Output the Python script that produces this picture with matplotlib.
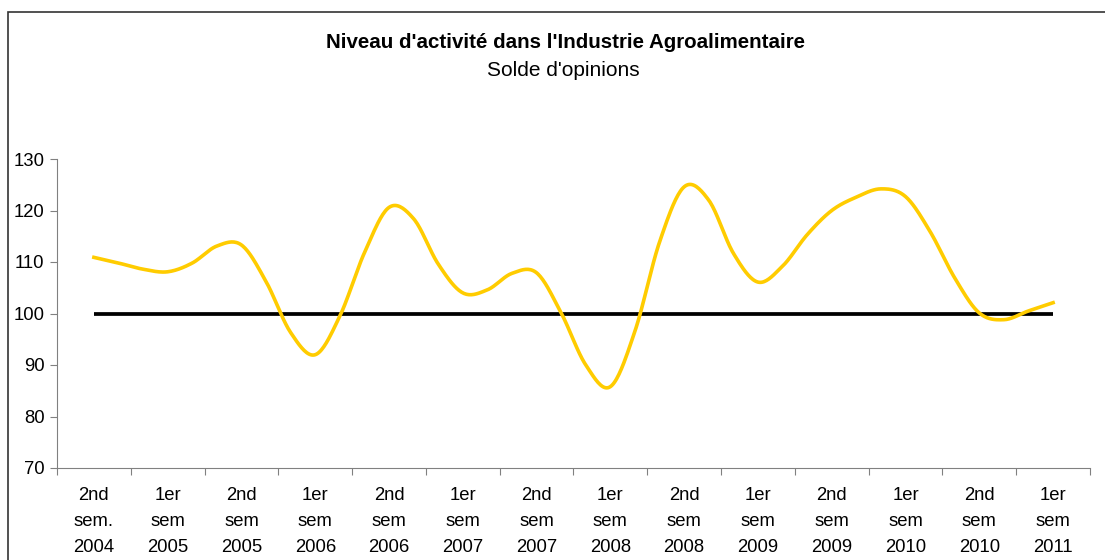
import matplotlib.pyplot as plt
from matplotlib.patches import Rectangle
import numpy as np

plt.rcParams['font.family'] = ['Liberation Sans', 'DejaVu Sans']

# Libellés des semestres
categories = ['2nd\nsem.\n2004', '1er\nsem\n2005', '2nd\nsem\n2005', '1er\nsem\n2006',
              '2nd\nsem\n2006', '1er\nsem\n2007', '2nd\nsem\n2007', '1er\nsem\n2008',
              '2nd\nsem\n2008', '1er\nsem\n2009', '2nd\nsem\n2009', '1er\nsem\n2010',
              '2nd\nsem\n2010', '1er\nsem\n2011']

# Solde d'opinions (un point tous les tiers de semestre)
solde = [110.9, 109.8, 108.6, 108.1, 109.8, 113.1, 113.3, 106.2, 96.3, 92.0,
         99.5, 111.8, 120.6, 118.4, 109.6, 104.0, 104.6, 107.8, 107.9, 100.1,
         90.0, 85.8, 96.6, 113.9, 124.6, 122.0, 111.7, 106.1, 109.2, 115.3,
         120.0, 122.6, 124.2, 122.7, 115.9, 106.9, 100.1, 98.8, 100.5, 102.1]
reference = 100
pas = 1 / 3


def catmull_rom(x, y, n=20):
    # lissage type Excel
    x = np.asarray(x, float)
    y = np.asarray(y, float)
    px = np.concatenate([[2 * x[0] - x[1]], x, [2 * x[-1] - x[-2]]])
    py = np.concatenate([[2 * y[0] - y[1]], y, [2 * y[-1] - y[-2]]])
    xs, ys = [], []
    for i in range(1, len(px) - 2):
        t = np.linspace(0, 1, n, endpoint=False)
        for p, out in ((px, xs), (py, ys)):
            p0, p1, p2, p3 = p[i - 1], p[i], p[i + 1], p[i + 2]
            out.extend(0.5 * (2 * p1 + (-p0 + p2) * t
                              + (2 * p0 - 5 * p1 + 4 * p2 - p3) * t ** 2
                              + (-p0 + 3 * p1 - 3 * p2 + p3) * t ** 3))
    xs.append(x[-1])
    ys.append(y[-1])
    return np.array(xs), np.array(ys)


fig = plt.figure(figsize=(11.05, 5.6), dpi=100)
fig.patches.append(Rectangle((8 / 1105, -0.1), 1.2, 1 - 12 / 560 + 0.1,
                             transform=fig.transFigure, fill=False,
                             edgecolor='#333333', linewidth=1.2))

ax = fig.add_axes([57 / 1105, 1 - 468 / 560, (1090 - 57) / 1105, (468 - 159) / 560])

x = np.arange(len(solde)) * pas
xs, ys = catmull_rom(x, solde)
ax.plot([0, len(categories) - 1], [reference, reference], color='black', lw=2.7,
        solid_capstyle='butt', zorder=2)
ax.plot(xs, ys, color='#FFCC00', lw=2.6, zorder=3)

ax.set_xlim(-0.5, len(categories) - 0.5)
ax.set_ylim(70, 130)
ax.set_yticks(range(70, 131, 10))
ax.set_xticks(np.arange(-0.5, len(categories), 1))
ax.set_xticklabels([])
ax.set_xticks(range(len(categories)), minor=True)
ax.set_xticklabels(categories, minor=True, linespacing=1.68)
ax.tick_params(axis='x', which='minor', length=0, pad=14, labelsize=13.3)
ax.tick_params(axis='x', which='major', length=5, color='#808080', direction='out')
ax.tick_params(axis='y', length=5, color='#808080', direction='out', labelsize=13.3, pad=4)
for s in ('top', 'right'):
    ax.spines[s].set_visible(False)
for s in ('left', 'bottom'):
    ax.spines[s].set_color('#808080')

fig.text(565 / 1105, 1 - 42 / 560, "Niveau d'activité dans l'Industrie Agroalimentaire",
         ha='center', va='center', fontsize=14.8, fontweight='bold')
fig.text(563 / 1105, 1 - 70 / 560, "Solde d'opinions", ha='center', va='center', fontsize=15)

fig.savefig('out.png', dpi=100)
